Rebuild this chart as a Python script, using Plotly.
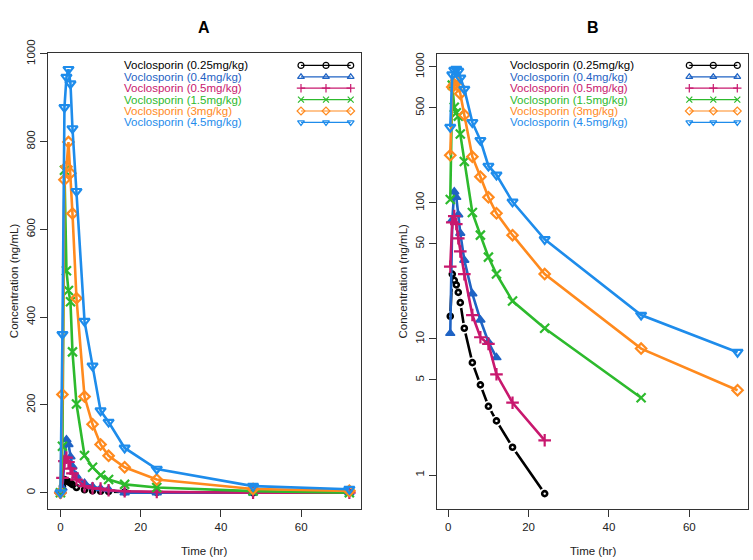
import plotly.graph_objects as go

# ---------------- data ----------------
TIME = [0, 0.5, 1, 1.5, 2, 2.5, 3, 4, 6, 8, 10, 12, 16, 24, 48, 72]
C_025 = [0, 14.7, 30, 27, 25, 22, 18.5, 12, 6.7, 4.6, 3.2, 2.5, 1.6, 0.73, 0, 0]
C_04 = [0, 11, 75, 121, 110, 82, 60, 38, 21.5, 13.8, 9.5, 7.3, 0, 0, 0, 0]
C_05 = [0, 34, 72, 80, 70, 55, 44, 30, 15, 10.3, 9.2, 5.5, 3.4, 1.8, 0, 0]
C_15 = [0, 106, 735, 506, 461, 435, 321, 202, 85, 58, 40, 30, 19, 12, 3.7, 0]
C_3 = [0, 224, 713, 743, 799, 728, 636, 443, 219, 156, 110, 84, 58, 30, 8.5, 4.2]
C_45 = [0, 361, 878, 947, 965, 932, 830, 687, 391, 289, 187, 161, 102, 54, 15, 8]

SERIES_NAMES = ["Voclosporin (0.25mg/kg)", "Voclosporin (0.4mg/kg)", "Voclosporin (0.5mg/kg)",
                "Voclosporin (1.5mg/kg)", "Voclosporin (3mg/kg)", "Voclosporin (4.5mg/kg)"]
SERIES_VALUES = [C_025, C_04, C_05, C_15, C_3, C_45]

X_TICKS = [0, 20, 40, 60]
Y_TICKS_LIN = [0, 200, 400, 600, 800, 1000]
Y_TICKS_LOG = [1, 5, 10, 50, 100, 500, 1000]

# ---------------- style ----------------
COLORS = ["#000000", "#1F63C4", "#C8186E", "#2DBA2D", "#FF8A1E", "#1E8CEB"]
SYMBOLS = ["circle-open", "triangle-up", "cross-thin-open", "x-thin-open",
           "diamond-open", "triangle-down-open"]
LEG_SYMBOLS = ["circle-open", "triangle-up-open", "cross-thin-open", "x-thin-open",
               "diamond-open", "triangle-down-open"]
MSIZE = [5, 8, 9, 9, 8, 9]
MLW = [2.6, 1.5, 2.2, 2.2, 2.2, 2.2]
HALO = [True, False, False, False, False, False]   # gap around points (R type="b" look)
FONT = "Liberation Sans, Arial, sans-serif"
W, H = 753, 560

# panel boxes in pixels (left, right, top, bottom)
PA = (48, 361, 40, 508)
PB = (437, 748, 40.7, 508)


def dom_x(p):
    return [p[0] / W, p[1] / W]


def dom_y(p):
    return [1 - p[3] / H, 1 - p[2] / H]


fig = go.Figure()

for name, vals, col, sym, ms, lw, halo in zip(SERIES_NAMES, SERIES_VALUES, COLORS, SYMBOLS,
                                              MSIZE, MLW, HALO):
    tb = [t for t, v in zip(TIME, vals) if v > 0]
    vb = [v for v in vals if v > 0]
    for xs, ys, xa, ya in [(TIME, vals, "x", "y"), (tb, vb, "x2", "y2")]:
        fig.add_trace(go.Scatter(
            x=xs, y=ys, mode="lines", name=name, showlegend=False,
            line=dict(color=col, width=2.6), xaxis=xa, yaxis=ya, cliponaxis=False))
        if halo:
            fig.add_trace(go.Scatter(
                x=xs, y=ys, mode="markers", showlegend=False, hoverinfo="skip",
                marker=dict(symbol="circle", size=ms + 6, color="white", line=dict(width=0)),
                xaxis=xa, yaxis=ya, cliponaxis=False))
        fig.add_trace(go.Scatter(
            x=xs, y=ys, mode="markers", name=name, showlegend=False,
            marker=dict(symbol=sym, size=ms, color=col, line=dict(color=col, width=lw)),
            xaxis=xa, yaxis=ya, cliponaxis=False))

# ---------------- custom legends ----------------
ROW0, ROWSTEP = 52.7, 11.7
LEG = [
    dict(panel=PA, text_x=121.7, sample=[301, 326, 350.7], xa="x3", ya="y3"),
    dict(panel=PB, text_x=508.3, sample=[689.3, 713.3, 737.3], xa="x4", ya="y4"),
]
annotations = []
for lg in LEG:
    for i, (name, col, sym) in enumerate(zip(SERIES_NAMES, COLORS, LEG_SYMBOLS)):
        ry = ROW0 + i * ROWSTEP
        annotations.append(dict(
            x=lg["text_x"] / W, y=1 - ry / H, xref="paper", yref="paper",
            text=name, showarrow=False, xanchor="left", yanchor="middle",
            font=dict(family=FONT, size=11.5, color=col)))
        fig.add_trace(go.Scatter(
            x=lg["sample"], y=[ry] * 3, mode="lines+markers", showlegend=False,
            hoverinfo="skip",
            line=dict(color=col, width=1.2),
            marker=dict(symbol=sym, size=6, color=col, line=dict(color=col, width=1.2)),
            xaxis=lg["xa"], yaxis=lg["ya"], cliponaxis=False))

# titles and axis titles
for p, lab in [(PA, "A"), (PB, "B")]:
    cx = (p[0] + p[1]) / 2
    annotations.append(dict(x=cx / W, y=1 - 14 / H, xref="paper", yref="paper", text="<b>%s</b>" % lab,
                            showarrow=False, xanchor="center", yanchor="middle",
                            font=dict(family=FONT, size=16, color="#000")))
    annotations.append(dict(x=cx / W, y=1 - 551 / H, xref="paper", yref="paper", text="Time (hr)",
                            showarrow=False, xanchor="center", yanchor="middle",
                            font=dict(family=FONT, size=11.5, color="#222")))
    annotations.append(dict(x=(p[0] - 34) / W, y=1 - ((p[2] + p[3]) / 2) / H, xref="paper", yref="paper",
                            text="Concentration (ng/mL)", textangle=-90,
                            showarrow=False, xanchor="center", yanchor="middle",
                            font=dict(family=FONT, size=11.5, color="#222")))

axis_common = dict(showgrid=False, zeroline=False, showline=True, mirror=True,
                   linecolor="#333", linewidth=1, ticks="outside", ticklen=7,
                   tickcolor="#333", tickwidth=1,
                   tickfont=dict(family=FONT, size=11.5, color="#222"))

fig.update_layout(
    width=W, height=H,
    margin=dict(l=0, r=0, t=0, b=0),
    paper_bgcolor="white", plot_bgcolor="white",
    showlegend=False,
    xaxis=dict(domain=dom_x(PA), range=[-3.1, 74.9], tickvals=X_TICKS, anchor="y", **axis_common),
    yaxis=dict(domain=dom_y(PA), range=[-37.8, 1002], tickvals=Y_TICKS_LIN, tickangle=-90,
               anchor="x", **axis_common),
    xaxis2=dict(domain=dom_x(PB), range=[-2.8, 74.6], tickvals=X_TICKS, anchor="y2", **axis_common),
    yaxis2=dict(domain=dom_y(PB), type="log", range=[-0.252, 3.0975], tickvals=Y_TICKS_LOG,
                ticktext=[str(v) for v in Y_TICKS_LOG], tickangle=-90, anchor="x2", **axis_common),
    xaxis3=dict(overlaying="x", range=[PA[0], PA[1]], visible=False),
    yaxis3=dict(overlaying="y", range=[PA[3], PA[2]], visible=False),
    xaxis4=dict(overlaying="x2", range=[PB[0], PB[1]], visible=False),
    yaxis4=dict(overlaying="y2", range=[PB[3], PB[2]], visible=False),
    annotations=annotations,
)

fig.write_html("out.html", config={"displayModeBar": False},
               post_script="document.body.style.margin='0';document.body.style.overflow='hidden';")
